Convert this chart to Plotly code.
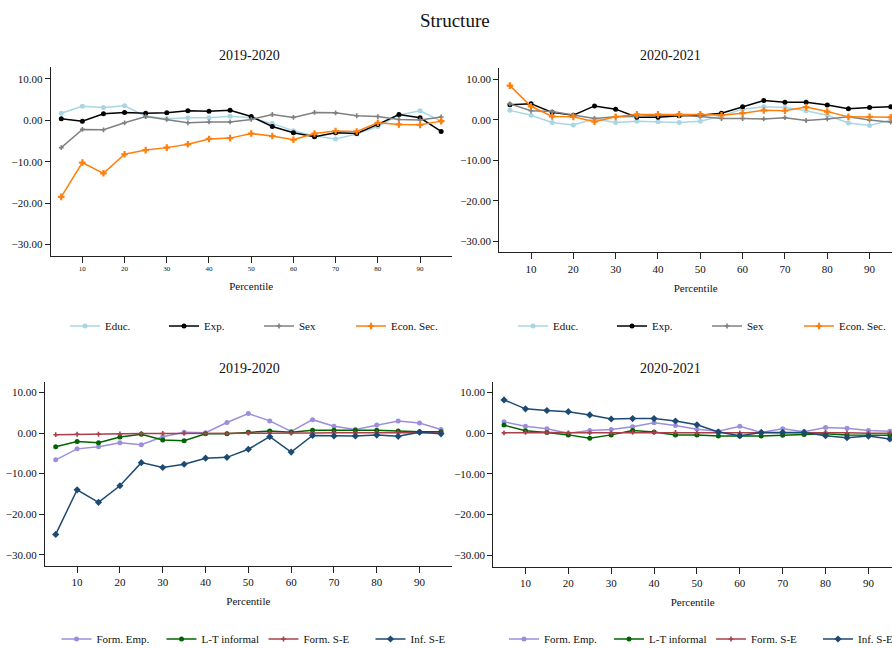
import plotly.graph_objects as go

# Percentiles of the wage distribution
percentiles = [5, 10, 15, 20, 25, 30, 35, 40, 45, 50, 55, 60, 65, 70, 75, 80, 85, 90, 95]

# Structure effects by characteristic, 2019-2020
educ_1920 = [1.7, 3.4, 3.1, 3.5, 1.0, 0.4, 0.6, 0.6, 1.0, 0.6, -0.8, -2.5, -3.8, -4.5, -3.3, -1.5, 1.3, 2.3, -0.2]
exp_1920 = [0.4, -0.2, 1.6, 1.9, 1.7, 1.8, 2.3, 2.2, 2.4, 0.9, -1.5, -3.0, -4.0, -3.0, -3.2, -1.0, 1.4, 0.6, -2.7]
sex_1920 = [-6.6, -2.2, -2.3, -0.6, 0.9, 0.2, -0.6, -0.4, -0.4, 0.2, 1.4, 0.7, 1.9, 1.8, 1.1, 0.9, 0.2, 0.1, 0.8]
econ_1920 = [-18.5, -10.2, -12.8, -8.2, -7.2, -6.6, -5.8, -4.5, -4.3, -3.2, -3.8, -4.7, -3.2, -2.6, -2.7, -0.6, -1.0, -1.1, -0.2]

# Structure effects by characteristic, 2020-2021
educ_2021 = [2.3, 1.1, -0.7, -1.3, 0.2, -0.7, -0.4, -0.5, -0.7, -0.4, 0.9, 2.6, 3.2, 3.0, 2.2, 1.1, -0.8, -1.4, -0.1]
exp_2021 = [3.7, 3.9, 1.8, 1.1, 3.4, 2.6, 0.6, 0.6, 1.0, 1.1, 1.6, 3.2, 4.7, 4.3, 4.3, 3.6, 2.7, 3.0, 3.2]
sex_2021 = [3.9, 2.2, 2.0, 1.1, 0.3, 0.7, 0.8, 1.1, 1.1, 0.8, 0.3, 0.3, 0.2, 0.5, -0.2, 0.2, 0.7, -0.1, -0.6]
econ_2021 = [8.4, 3.3, 0.8, 0.7, -0.5, 0.7, 1.3, 1.3, 1.3, 1.3, 1.1, 1.6, 2.3, 2.2, 3.1, 2.0, 0.7, 0.7, 0.6]

# Structure effects by employment type, 2019-2020
femp_1920 = [-6.6, -3.9, -3.4, -2.4, -2.9, -0.9, 0.2, 0.1, 2.6, 4.8, 3.0, 0.4, 3.3, 1.7, 0.9, 2.0, 3.0, 2.5, 0.9]
ltinf_1920 = [-3.4, -2.1, -2.4, -1.0, -0.3, -1.7, -1.9, -0.2, -0.2, 0.2, 0.5, 0.2, 0.7, 0.7, 0.7, 0.7, 0.5, 0.3, 0.3]
fse_1920 = [-0.4, -0.3, -0.3, -0.2, -0.1, -0.1, -0.1, -0.1, -0.1, 0.0, 0.0, 0.0, 0.0, 0.1, 0.1, 0.1, 0.1, 0.1, 0.1]
infse_1920 = [-25.0, -14.0, -17.1, -13.0, -7.3, -8.5, -7.7, -6.2, -6.0, -4.0, -0.9, -4.7, -0.6, -0.7, -0.7, -0.5, -0.8, 0.2, -0.2]

# Structure effects by employment type, 2020-2021
femp_2021 = [2.8, 1.7, 1.1, 0.0, 0.7, 0.9, 1.6, 2.6, 1.9, 1.0, 0.5, 1.7, 0.2, 1.1, 0.4, 1.4, 1.2, 0.7, 0.5]
ltinf_2021 = [2.0, 0.6, 0.2, -0.4, -1.2, -0.4, 0.7, 0.3, -0.4, -0.4, -0.7, -0.7, -0.7, -0.5, -0.3, -0.1, -0.4, -0.5, -0.5]
fse_2021 = [0.1, 0.2, 0.2, 0.1, 0.1, 0.1, 0.2, 0.2, 0.2, 0.1, 0.1, 0.1, 0.1, 0.2, 0.2, 0.2, 0.1, 0.0, 0.0]
infse_2021 = [8.2, 6.0, 5.6, 5.3, 4.5, 3.5, 3.6, 3.6, 3.0, 2.1, 0.3, -0.6, 0.2, 0.2, 0.2, -0.6, -1.1, -0.7, -1.4]

x_ticks = [10, 20, 30, 40, 50, 60, 70, 80, 90]
y_ticks = [10, 0, -10, -20, -30]

FONT = "Liberation Serif, Times New Roman, serif"
AXIS = "#222222"

W, H = 892, 648

fig = go.Figure()

char_styles = [
    ("Educ.", "#a9d6e5", "circle", 5),
    ("Exp.", "#000000", "circle", 5),
    ("Sex", "#808080", "cross", 4),
    ("Econ. Sec.", "#ff7f0e", "cross", 5.5),
]
emp_styles = [
    ("Form. Emp.", "#9b8fdc", "circle", 5),
    ("L-T informal", "#006400", "circle", 5),
    ("Form. S-E", "#a8404c", "cross", 4),
    ("Inf. S-E", "#1d4a72", "diamond", 5.5),
]
top_widths = [54, 50, 47, 60]
bot_widths = [60, 57, 62, 50]

panels = [
    ("x", "y", "legend", [educ_1920, exp_1920, sex_1920, econ_1920], char_styles, top_widths),
    ("x2", "y2", "legend2", [educ_2021, exp_2021, sex_2021, econ_2021], char_styles, top_widths),
    ("x3", "y3", "legend3", [femp_1920, ltinf_1920, fse_1920, infse_1920], emp_styles, bot_widths),
    ("x4", "y4", "legend4", [femp_2021, ltinf_2021, fse_2021, infse_2021], emp_styles, bot_widths),
]

for xa, ya, leg, series, styles, widths in panels:
    for vals, (name, color, symbol, size), lw in zip(series, styles, widths):
        fig.add_trace(go.Scatter(
            x=percentiles, y=vals, name=name, mode="lines+markers",
            xaxis=xa, yaxis=ya, legend=leg, legendwidth=lw,
            line=dict(color=color, width=1.5),
            marker=dict(color=color, symbol=symbol, size=size),
            cliponaxis=False,
        ))


def px_x(p):
    return p / W


def px_y(p):
    return 1 - p / H


def xaxis(domain, rng, tick_size):
    return dict(
        domain=domain, range=rng, tickmode="array", tickvals=x_ticks,
        showline=True, linecolor=AXIS, linewidth=1, mirror=False,
        ticks="outside", ticklen=6, tickcolor=AXIS, tickwidth=1,
        showgrid=False, zeroline=False,
        tickfont=dict(family=FONT, size=tick_size, color="#111"),
        title=dict(text="Percentile", font=dict(family=FONT, size=11, color="#111"), standoff=10),
    )


def yaxis(domain, rng, anchor):
    return dict(
        domain=domain, range=rng, anchor=anchor, tickmode="array", tickvals=y_ticks,
        tickformat=".2f",
        showline=True, linecolor=AXIS, linewidth=1,
        ticks="outside", ticklen=5, tickcolor=AXIS, tickwidth=1,
        showgrid=False, zeroline=False,
        tickfont=dict(family=FONT, size=11, color="#111"),
    )


def legend(x, y):
    return dict(
        orientation="h", x=x, y=y, xanchor="left", yanchor="middle",
        font=dict(family=FONT, size=11, color="#111"),
        bgcolor="rgba(0,0,0,0)", itemwidth=30,
    )


fig.update_layout(
    width=W, height=H,
    margin=dict(l=0, r=0, t=0, b=0, autoexpand=False),
    paper_bgcolor="white", plot_bgcolor="white",
    font=dict(family=FONT, color="#111"),
    showlegend=True,
    xaxis=dict(anchor="y", **xaxis([px_x(50.7), px_x(451.7)], [2.5, 97.5], 7)),
    yaxis=yaxis([px_y(255.7), px_y(67.3)], [-32.7, 12.8], "x"),
    xaxis2=dict(anchor="y2", **xaxis([px_x(499.3), 1.0], [2.5, 95.3], 11)),
    yaxis2=yaxis([px_y(252.3), px_y(68.3)], [-32.66, 12.66], "x2"),
    xaxis3=dict(anchor="y3", **xaxis([px_x(45), px_x(451.7)], [2.5, 97.5], 11)),
    yaxis3=yaxis([px_y(566), px_y(381.7)], [-32.8, 12.67], "x3"),
    xaxis4=dict(anchor="y4", **xaxis([px_x(493.3), 1.0], [2.5, 95.5], 11)),
    yaxis4=yaxis([px_y(566.7), px_y(381.7)], [-32.8, 12.67], "x4"),
    legend=legend(px_x(65), px_y(326)),
    legend2=legend(px_x(513), px_y(326)),
    legend3=legend(px_x(56.5), px_y(639)),
    legend4=legend(px_x(504), px_y(639)),
)

# Figure title and panel titles
titles = [
    ("Structure", 455, 20, 19),
    ("2019-2020", 250, 55, 14),
    ("2020-2021", 670, 55, 14),
    ("2019-2020", 250, 368, 14),
    ("2020-2021", 670, 368, 14),
]
for text, x, y, size in titles:
    fig.add_annotation(
        text=text, xref="paper", yref="paper", x=px_x(x), y=px_y(y),
        xanchor="center", yanchor="middle", showarrow=False,
        font=dict(family=FONT, size=size, color="#111"),
    )

fig.write_html("out.html")
